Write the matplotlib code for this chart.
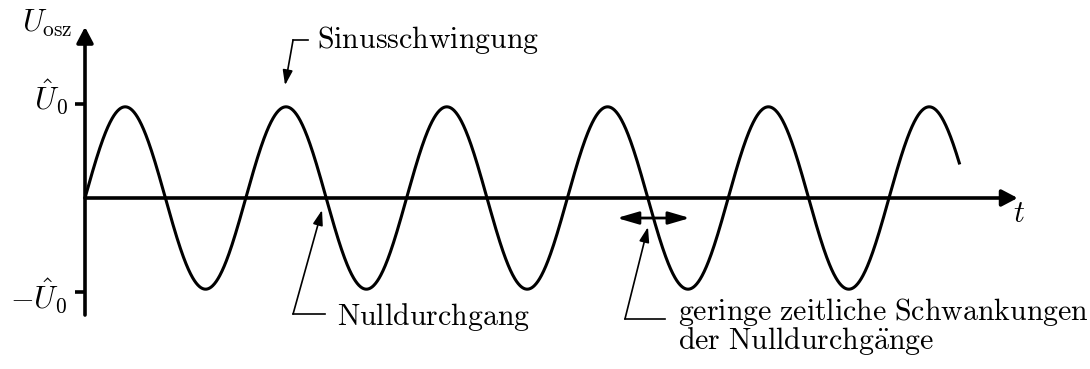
import numpy as np
import matplotlib
matplotlib.use("Agg")
import matplotlib.pyplot as plt

plt.rcParams['mathtext.fontset'] = 'cm'

# values (time in periods, voltage in units of U0)
amplitude = 0.97
t_end = 5.44
x_axis_end = 5.80
y_axis_range = [-1.245, 1.82]
tick_values = [1.0, -1.0]
tick_labels = [r'$\hat{U}_0$', r'$-\hat{U}_0$']
y_label = r'$U_\mathrm{osz}$'
x_label = r'$t$'


def rm(s):
    # roman text through mathtext so the umlaut works with the cm fonts
    s = s.replace(' ', r'\ ').replace('ä', r'\ddot{a}')
    return '$\\mathrm{' + s + '}$'


fig = plt.figure(figsize=(10.9, 3.69), dpi=100)
ax = fig.add_axes([0, 0, 1, 1])
ax.axis('off')
# 1 period = 160.8 px, 1 U0 = 94 px, origin at pixel (85, 198)
ax.set_xlim(-85 / 160.8, (1090 - 85) / 160.8)
ax.set_ylim(-(369 - 198) / 94, 198 / 94)

#The sine wave
t = np.linspace(0, t_end, 2000)
ax.plot(t, amplitude * np.sin(2 * np.pi * t), color='k', lw=2.2,
        solid_capstyle='butt')

#Axes with arrow heads
head = dict(arrowstyle='-|>,head_length=0.95,head_width=0.5', lw=2.6,
            color='k', mutation_scale=10, shrinkA=0, shrinkB=0)
ax.annotate('', xy=(x_axis_end, 0), xytext=(0, 0), arrowprops=head)
ax.annotate('', xy=(0, y_axis_range[1]), xytext=(0, y_axis_range[0]),
            arrowprops=head)

for v, lab in zip(tick_values, tick_labels):
    ax.plot([-0.065, 0], [v, v], color='k', lw=2.6, solid_capstyle='butt')
    ax.text(-0.108, v - 0.06 - (0.12 if v < 0 else 0), lab, fontsize=22,
            ha='right', va='baseline')

ax.text(-0.075, 1.766, y_label, fontsize=22, ha='right', va='baseline')
ax.text(5.77, -0.255, x_label, fontsize=22, ha='left', va='baseline')

#Leader lines with small arrow heads
small = dict(arrowstyle='-|>,head_length=0.9,head_width=0.3', lw=1.2,
             color='k', mutation_scale=10, shrinkA=0, shrinkB=0)


def leader(tip, elbow, end):
    ax.plot([elbow[0], end], [elbow[1], elbow[1]], color='k', lw=1.2)
    ax.annotate('', xy=tip, xytext=elbow, arrowprops=small)


fs = 21.5
leader((1.244, 1.20), (1.294, 1.681), 1.387)
ax.text(1.443, 1.596, rm('Sinusschwingung'), fontsize=fs, va='baseline')

leader((1.474, -0.128), (1.294, -1.234), 1.493)
ax.text(1.567, -1.351, rm('Nulldurchgang'), fontsize=fs, va='baseline')

leader((3.501, -0.309), (3.358, -1.287), 3.607)
ax.text(3.688, -1.30, rm('geringe zeitliche Schwankungen'), fontsize=fs,
        va='baseline')
ax.text(3.688, -1.61, rm('der Nulldurchgänge'), fontsize=fs,
        va='baseline')

#Double arrow for the jitter of the zero crossing
ax.annotate('', xy=(3.308, -0.213), xytext=(3.762, -0.213),
            arrowprops=dict(arrowstyle='<|-|>,head_length=1.3,head_width=0.38',
                            lw=2.0, color='k', mutation_scale=10,
                            shrinkA=0, shrinkB=0))

fig.savefig('out.png', dpi=100)
